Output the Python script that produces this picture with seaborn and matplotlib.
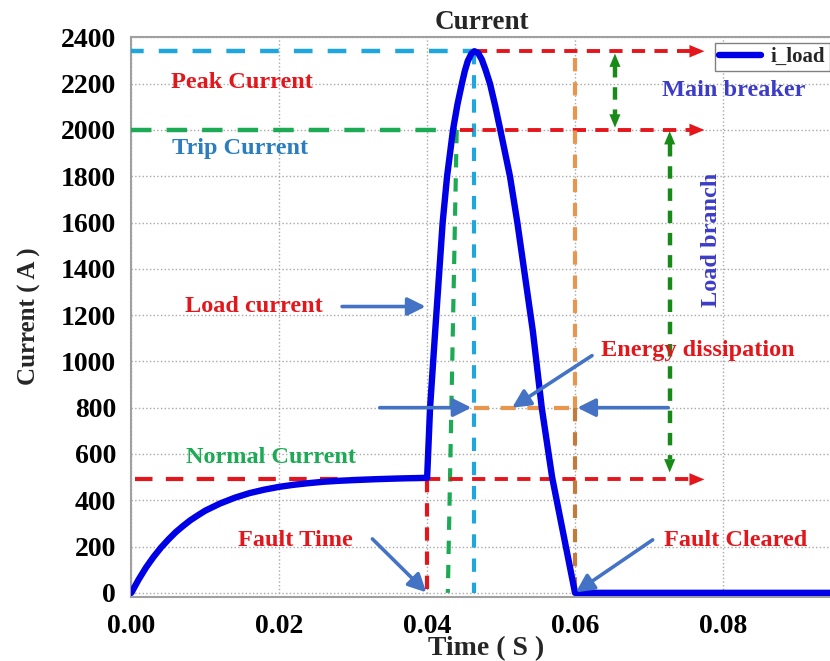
import matplotlib
matplotlib.use("Agg")
import matplotlib.pyplot as plt
import pandas as pd
import seaborn as sns

# Load current waveform: time in seconds, current in amperes
time_s = [0.000, 0.001, 0.002, 0.003, 0.004, 0.005, 0.006, 0.007, 0.008, 0.009,
          0.010, 0.012, 0.014, 0.016, 0.018, 0.020, 0.022, 0.024, 0.026, 0.028,
          0.030, 0.033, 0.036, 0.0400,
          0.0404, 0.0411, 0.0421, 0.0427, 0.0435, 0.0441, 0.0447, 0.0451, 0.0455,
          0.0460, 0.0464, 0.0469, 0.0474, 0.0479, 0.0485, 0.0492, 0.0499, 0.0512,
          0.0522, 0.0543, 0.0555, 0.0569, 0.0600, 0.1000]
current_a = [0, 58, 110, 155, 195, 230, 262, 289, 314, 335,
             355, 386, 411, 431, 446, 458, 467, 474, 480, 484,
             487, 491, 494, 497,
             800, 1135, 1600, 1800, 2000, 2110, 2200, 2255, 2298,
             2330, 2340, 2332, 2304, 2260, 2200, 2105, 2000, 1800,
             1600, 1130, 800, 500, 0, 0]

# Reference levels marked on the chart
normal_current = 500
trip_current = 2000
peak_current = 2340
energy_level = 800
fault_time = 0.040
peak_time = 0.0463
clear_time = 0.060

x_ticks = [0.00, 0.02, 0.04, 0.06, 0.08]
x_tick_labels = ["0.00", "0.02", "0.04", "0.06", "0.08"]
y_ticks = [0, 200, 400, 600, 800, 1000, 1200, 1400, 1600, 1800, 2000, 2200, 2400]

sns.set_theme(style="whitegrid")
plt.rcParams["font.family"] = ["Liberation Serif", "DejaVu Serif"]
plt.rcParams["font.weight"] = "bold"

RED = "#E3161C"
CYAN = "#1FA6DE"
GREEN = "#1DAA55"
DKGREEN = "#178A17"
ORANGE = "#E8964E"
BROWN = "#C47A3C"
ARROW_BLUE = "#4472C4"
INDIGO = "#3C3CC8"

fig = plt.figure(figsize=(8.3, 6.61), dpi=100)
ax = fig.add_axes([0.1582, 0.0968, 0.891, 0.8467])

df = pd.DataFrame({"Time": time_s, "Current": current_a})
sns.lineplot(data=df, x="Time", y="Current", ax=ax, color="#0000E6",
             lw=4.6, label="i_load", zorder=6)
for ln in ax.get_lines():
    ln.set_solid_joinstyle("round")
    ln.set_solid_capstyle("round")


def dashed(xs, ys, color, lw=3.0, dashes=(4.0, 3.0), z=4):
    ax.plot(xs, ys, color=color, lw=lw, dashes=dashes, zorder=z,
            solid_capstyle="butt", dash_capstyle="butt")


def head(xy_from, xy_to, color, scale=18, style="-|>,head_length=0.6,head_width=0.25"):
    ax.annotate("", xy=xy_to, xytext=xy_from,
                arrowprops=dict(arrowstyle=style, color=color, lw=0,
                                mutation_scale=scale, shrinkA=0, shrinkB=0),
                zorder=7)


def blue_arrow(xy_from, xy_to):
    ax.annotate("", xy=xy_to, xytext=xy_from,
                arrowprops=dict(arrowstyle="-|>,head_length=0.6,head_width=0.3",
                                color=ARROW_BLUE, lw=2.6, mutation_scale=18,
                                shrinkA=0, shrinkB=0),
                zorder=7)


arrow_end = 0.0775

# Peak current level
dashed([-0.0008, peak_time], [peak_current, peak_current], CYAN, lw=3.2, dashes=(4.2, 3.4))
dashed([peak_time, peak_time], [peak_current, 0], CYAN, lw=3.0, dashes=(3.2, 2.6))
dashed([peak_time, arrow_end - 0.0015], [peak_current, peak_current], RED, lw=2.8, dashes=(3.4, 2.4))
head((arrow_end - 0.003, peak_current), (arrow_end, peak_current), RED)

# Trip current level
dashed([0, 0.0440], [trip_current, trip_current], GREEN, lw=3.2, dashes=(4.6, 3.4))
dashed([0.0440, 0.0428], [trip_current, 0], GREEN, lw=3.0, dashes=(3.2, 2.6))
dashed([0.0444, arrow_end - 0.0015], [trip_current, trip_current], RED, lw=2.8, dashes=(3.4, 2.4))
head((arrow_end - 0.003, trip_current), (arrow_end, trip_current), RED)

# Normal current level and fault instant
dashed([0.0005, fault_time], [normal_current - 10, normal_current - 10], RED, lw=3.0, dashes=(4.2, 3.2))
dashed([fault_time, fault_time], [normal_current - 10, 0], RED, lw=3.0, dashes=(3.2, 2.6))
dashed([fault_time, arrow_end - 0.0015], [normal_current - 10, normal_current - 10], RED, lw=2.8, dashes=(3.4, 2.4))
head((arrow_end - 0.003, normal_current - 10), (arrow_end, normal_current - 10), RED)

# Fault clearing instant and energy dissipation window
dashed([clear_time, clear_time], [peak_current - 30, energy_level], ORANGE, lw=3.0, dashes=(3.2, 2.6))
dashed([clear_time, clear_time], [energy_level, 0], BROWN, lw=3.0, dashes=(3.2, 2.6))
dashed([peak_time, clear_time], [energy_level, energy_level], ORANGE, lw=3.0, dashes=(3.6, 2.8))

# Main breaker and load branch spans
mb_x = 0.0654
dashed([mb_x, mb_x], [peak_current - 60, trip_current + 60], DKGREEN, lw=3.2, dashes=(2.8, 2.2))
head((mb_x, peak_current - 150), (mb_x, peak_current - 10), DKGREEN, scale=16)
head((mb_x, trip_current + 150), (mb_x, trip_current + 10), DKGREEN, scale=16)

lb_x = 0.0728
dashed([lb_x, lb_x], [trip_current - 60, normal_current + 80], DKGREEN, lw=3.2, dashes=(2.8, 2.2))
head((lb_x, trip_current - 150), (lb_x, trip_current - 5), DKGREEN, scale=16)
head((lb_x, normal_current + 160), (lb_x, normal_current + 20), DKGREEN, scale=16)

# Pointer arrows
blue_arrow((0.0285, 1237), (0.0398, 1237))
blue_arrow((0.0336, energy_level), (0.0460, energy_level))
blue_arrow((0.0726, energy_level), (0.0603, energy_level))
blue_arrow((0.0623, 1025), (0.0515, energy_level))
blue_arrow((0.0326, 233), (0.0399, 2))
blue_arrow((0.0705, 229), (0.0601, 2))

# Labels
lab = dict(fontsize=17.5, fontweight="bold", va="center", zorder=8)
ax.text(0.0150, 2205, "Peak Current", color=RED, ha="center", **lab)
ax.text(0.0147, 1920, "Trip Current", color="#2A7DBF", ha="center", **lab)
ax.text(0.0166, 1237, "Load current", color=RED, ha="center", **lab)
ax.text(0.0189, 584, "Normal Current", color=GREEN, ha="center", **lab)
ax.text(0.0222, 225, "Fault Time", color=RED, ha="center", **lab)
ax.text(0.0720, 225, "Fault Cleared", color=RED, ha="left", **lab)
ax.text(0.0766, 1046, "Energy dissipation", color=RED, ha="center", **lab)
ax.text(0.0814, 2170, "Main breaker", color=INDIGO, ha="center", **lab)
ax.text(0.0785, 1526, "Load branch", color=INDIGO, ha="center", rotation=90, **lab)

# Axes styling
ax.set_xlim(0, 0.1)
ax.set_ylim(-18, 2400)
ax.set_xticks(x_ticks)
ax.set_xticklabels(x_tick_labels)
ax.set_yticks(y_ticks)
ax.set_xlabel("")
ax.set_ylabel("")
ax.grid(True, linestyle=":", color="#A8A8A8", lw=1.0)
for side in ["left", "bottom", "top", "right"]:
    ax.spines[side].set_color("#A0A0A0")
    ax.spines[side].set_linewidth(1.5)
ax.tick_params(axis="both", direction="out", length=7, width=1.2,
               color="#A0A0A0", labelsize=20, labelcolor="black")
ax.tick_params(axis="y", pad=4)
ax.tick_params(axis="x", pad=5)
for t in ax.get_xticklabels() + ax.get_yticklabels():
    t.set_fontweight("bold")

leg = ax.legend(loc="upper left", bbox_to_anchor=(0.789, 0.99), fontsize=15,
                frameon=True, fancybox=False, framealpha=1, borderpad=0.2,
                handlelength=2.0, handletextpad=0.5, borderaxespad=0)
leg.get_frame().set_edgecolor("#808080")
leg.get_frame().set_linewidth(1.0)
for t in leg.get_texts():
    t.set_fontweight("bold")

fig.text(0.581, 0.966, "Current", ha="center", va="center", fontsize=19.5, fontweight="bold")
fig.text(0.036, 0.522, "Current ( A )", ha="center", va="center", rotation=90,
         fontsize=18, fontweight="bold")
fig.text(0.586, 0.037, "Time ( S )", ha="center", va="top", fontsize=20, fontweight="bold")

fig.savefig("out.png", dpi=100)
